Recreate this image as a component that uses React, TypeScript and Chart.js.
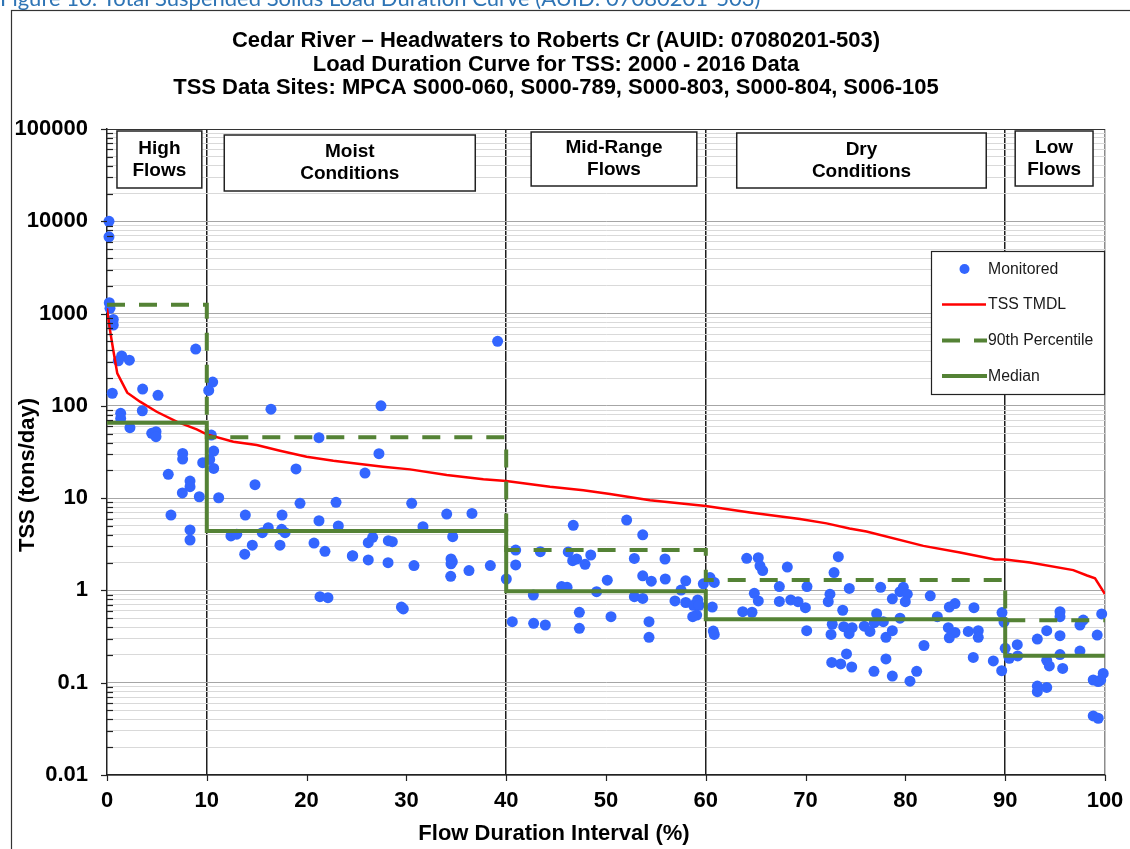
import React, { useEffect, useRef } from 'react';
import { Chart, registerables } from 'chart.js';

Chart.register(...registerables);

// ---------- text ----------
const captionText = 'Figure 10: Total Suspended Solids Load Duration Curve (AUID: 07080201-503)';
const titleLines = [
  'Cedar River \u2013 Headwaters to Roberts Cr (AUID: 07080201-503)',
  'Load Duration Curve for TSS: 2000 - 2016 Data',
  'TSS Data Sites: MPCA S000-060, S000-789, S000-803, S000-804, S006-105',
];
const xAxisTitle = 'Flow Duration Interval (%)';
const yAxisTitle = 'TSS (tons/day)';
const legendLabels = ['Monitored', 'TSS TMDL', '90th Percentile', 'Median'];

// ---------- flow zones ----------
const zoneEdges = [0, 10, 40, 60, 90, 100];
const zoneLabels = [
  ['High', 'Flows'],
  ['Moist', 'Conditions'],
  ['Mid-Range', 'Flows'],
  ['Dry', 'Conditions'],
  ['Low', 'Flows'],
];
const zoneDividers = [10, 40, 60, 90];
const p90Values = [1250, 45.6, 2.74, 1.3, 0.474];
const medianValues = [65.6, 4.4, 0.98, 0.486, 0.196];

// ---------- TMDL curve ----------
const tmdlX = [0, 0.3, 0.63, 1.03, 2.03, 3.31, 4.98, 6.98, 8.99, 10, 12.66, 15, 17.33, 20, 22.68, 25.35, 27.66, 30.36, 34.04, 37.71, 40, 44.39, 47.73, 50.4, 54.41, 60, 64.43, 69.44, 72.1, 74.4, 76.1, 81.8, 85.47, 88.98, 90, 92.48, 96.82, 98.2, 99.0, 100];
const tmdlY = [1140, 662, 401, 225, 139, 111, 86.3, 67.3, 55.6, 49.1, 40.8, 37.6, 32.6, 28.1, 25.4, 23.4, 21.9, 20.5, 17.8, 16.0, 15.3, 13.3, 12.2, 11.1, 9.5, 8.2, 7.0, 5.94, 5.33, 4.7, 4.35, 3.04, 2.58, 2.16, 2.16, 2.01, 1.66, 1.45, 1.35, 0.915];

// ---------- monitored TSS loads ----------
const flowPct = [
  0.2, 0.2, 0.23, 0.3, 0.63, 0.63, 1.13, 1.47, 2.24, 8.89, 0.53, 3.57, 5.11, 1.37, 1.37, 3.54, 2.3, 4.48, 4.91, 4.91,
  7.58, 7.58, 9.59, 6.14, 8.32, 8.32, 7.55, 9.25, 6.41, 8.32, 8.32,
  10.59, 10.19, 10.45, 10.69, 10.29, 10.69, 11.19, 16.43, 21.24, 18.94, 14.83, 19.34, 22.95, 13.86, 17.54, 21.24, 23.18, 16.16, 17.5, 17.84,
  15.56, 12.42, 13.0, 14.56, 13.8, 17.33, 20.74, 21.84, 24.58, 21.34, 22.14, 27.45, 27.25, 25.85, 30.53, 34.04, 36.57, 31.66, 34.64, 26.62,
  26.18, 28.19, 28.59, 24.62, 26.18, 28.16, 30.76, 34.47, 34.47, 34.6, 34.44, 36.27, 38.41, 29.5, 29.69, 39.14,
  40.01, 40.95, 40.95, 43.42, 46.22, 46.72, 46.66, 47.06, 47.9, 48.47, 50.13, 42.72, 45.55, 46.1, 49.06, 40.61, 42.75, 43.92, 47.33, 47.33,
  50.5, 52.07, 53.68, 52.84, 55.91, 53.68, 54.54, 55.94, 57.99, 57.52, 59.75, 52.84, 53.68, 56.91, 57.99, 58.75, 59.19, 59.32, 59.09, 58.69,
  54.31, 54.31,
  60.85, 60.42, 60.65, 60.75, 60.85, 64.1, 65.26, 65.43, 65.7, 68.17, 67.37, 70.14, 73.28, 72.85, 74.38, 64.86, 65.26, 63.7, 64.63, 67.37,
  68.51, 69.24, 69.98, 70.11, 72.44, 72.27, 73.72, 72.67, 73.82, 74.66, 74.36, 72.55, 74.1, 72.62, 73.52, 74.62, 77.52, 78.69, 79.79, 79.46,
  80.19, 79.99, 82.49, 84.4, 84.97, 86.87, 89.68, 77.12, 79.46, 83.2, 75.88, 76.45, 78.05, 78.69, 77.79, 76.88, 84.3, 84.97, 84.4, 86.3,
  87.3, 87.3, 81.86, 78.05, 86.8, 88.81, 89.65, 76.85, 78.69, 80.46, 81.13, 89.88,
  90.0, 90.41, 91.21, 91.25, 93.22, 94.16, 95.49, 95.49, 95.49, 97.49, 97.82, 99.22, 99.67, 94.16, 94.42, 95.76, 95.49, 97.49, 93.22, 93.22,
  94.16, 98.82, 99.32, 99.82, 99.57, 98.82, 99.32,
];
const tssObs = [
  10000, 6790, 1310, 1140, 865, 750, 308, 347, 313, 412, 137, 152, 130, 83, 73, 88.5, 58, 50.4, 52.5, 46.3,
  30.5, 26.5, 24.2, 18.1, 15.3, 13.3, 11.4, 10.35, 6.56, 4.52, 3.52,
  181, 147, 48.3, 32.4, 26.3, 21.0, 10.1, 92, 45.2, 20.7, 14.0, 8.8, 9.0, 6.56, 6.56, 5.69, 4.99, 4.79, 4.6, 4.22,
  4.22, 3.89, 4.07, 3.09, 2.47, 3.09, 3.26, 2.65, 2.36, 0.855, 0.834, 100, 30.3, 18.7, 8.8, 6.73, 6.83, 4.9, 3.82, 3.76,
  3.29, 3.46, 3.37, 2.38, 2.14, 2.0, 1.86, 2.19, 1.94, 2.05, 1.42, 1.64, 1.86, 0.66, 0.63, 500,
  1.33, 2.74, 1.89, 2.63, 2.61, 5.07, 2.1, 2.19, 1.92, 2.42, 1.29, 0.89, 1.1, 1.08, 0.97, 0.458, 0.44, 0.422, 0.579, 0.389,
  0.52, 5.79, 4.01, 2.22, 2.19, 1.44, 1.26, 1.33, 1.27, 1.01, 1.18, 0.855, 0.82, 0.77, 0.74, 0.69, 0.79, 0.69, 0.541, 0.519,
  0.458, 0.31,
  1.22, 1.38, 0.66, 0.363, 0.334, 2.23, 2.26, 1.85, 1.64, 1.79, 1.1, 1.1, 2.32, 1.56, 1.05, 0.93, 0.77, 0.588, 0.58, 0.76,
  0.79, 0.755, 0.65, 0.366, 0.91, 0.755, 0.61, 0.43, 0.405, 0.395, 0.34, 0.334, 0.205, 0.166, 0.16, 0.148, 1.08, 0.81, 1.08, 0.97,
  0.91, 0.755, 0.875, 0.66, 0.72, 0.65, 0.575, 0.56, 0.5, 0.52, 0.41, 0.36, 0.31, 0.366, 0.458, 0.447, 0.395, 0.35, 0.307, 0.36,
  0.366, 0.31, 0.253, 0.181, 0.188, 0.172, 0.135, 0.133, 0.118, 0.104, 0.133, 0.455,
  0.236, 0.184, 0.258, 0.195, 0.297, 0.366, 0.588, 0.519, 0.323, 0.422, 0.477, 0.328, 0.556, 0.175, 0.152, 0.143, 0.202, 0.22, 0.092, 0.08,
  0.089, 0.107, 0.103, 0.126, 0.107, 0.0436, 0.0412,
];

// ---------- axes ----------
const xMin = 0;
const xMax = 100;
const xStep = 10;
const yDecades = [0.01, 0.1, 1, 10, 100, 1000, 10000, 100000];
const yTickLabels = ['0.01', '0.1', '1', '10', '100', '1000', '10000', '100000'];

// ---------- styles / layout (not data) ----------
const FONT = "'Liberation Sans', Arial, sans-serif";
const BLUE = '#3366FF';
const RED = '#FF0000';
const GREEN = '#548235';
const zoneBoxLayout = [
  { x0: 1.0, x1: 9.5, top: 131, bottom: 188 },
  { x0: 11.75, x1: 36.9, top: 135, bottom: 191 },
  { x0: 42.5, x1: 59.1, top: 132, bottom: 186 },
  { x0: 63.1, x1: 88.1, top: 133, bottom: 188 },
  { x0: 91.0, x1: 98.8, top: 131, bottom: 186 },
];

const isDecade = (v: number) => {
  const l = Math.log10(v);
  return Math.abs(l - Math.round(l)) < 1e-6;
};

const yAllTicks: number[] = [];
yDecades.forEach((d, i) => {
  if (i === yDecades.length - 1) {
    yAllTicks.push(d);
    return;
  }
  for (let k = 1; k <= 9; k++) yAllTicks.push(parseFloat((d * k).toPrecision(6)));
});

const stepData = (vals: number[]) => {
  const pts: { x: number; y: number }[] = [];
  vals.forEach((v, i) => {
    pts.push({ x: zoneEdges[i], y: v });
    pts.push({ x: zoneEdges[i + 1], y: v });
  });
  return pts;
};

const decorPlugin = {
  id: 'decor',
  beforeDraw(chart: any) {
    const ctx = chart.ctx;
    ctx.save();
    ctx.fillStyle = '#ffffff';
    ctx.fillRect(0, 0, chart.width, chart.height);
    // caption (cut off at top)
    ctx.fillStyle = '#2E74B5';
    ctx.font = "22px Lato, 'Open Sans', sans-serif";
    ctx.textAlign = 'left';
    ctx.textBaseline = 'alphabetic';
    ctx.fillText(captionText, 0, 5.5);
    // frame
    ctx.strokeStyle = '#333333';
    ctx.lineWidth = 1.2;
    ctx.strokeRect(11.5, 10.5, 1200, 900);
    ctx.restore();
  },
  afterDraw(chart: any) {
    const ctx = chart.ctx;
    const area = chart.chartArea;
    const xs = chart.scales.x;
    const ys = chart.scales.y;
    ctx.save();

    // top border line of plot
    ctx.strokeStyle = '#333333';
    ctx.lineWidth = 1.2;
    ctx.beginPath();
    ctx.moveTo(area.left, area.top + 0.5);
    ctx.lineTo(area.right, area.top + 0.5);
    ctx.stroke();

    // tick marks
    ctx.strokeStyle = '#222222';
    ctx.lineWidth = 1.2;
    yAllTicks.forEach((v) => {
      const py = Math.round(ys.getPixelForValue(v)) + 0.5;
      ctx.beginPath();
      if (isDecade(v)) {
        ctx.moveTo(area.left - 6, py);
        ctx.lineTo(area.left, py);
      } else {
        ctx.moveTo(area.left, py);
        ctx.lineTo(area.left + 6, py);
      }
      ctx.stroke();
    });
    for (let v = xMin; v <= xMax; v += xStep) {
      const px = Math.round(xs.getPixelForValue(v)) + 0.5;
      ctx.beginPath();
      ctx.moveTo(px, area.bottom);
      ctx.lineTo(px, area.bottom + 6);
      ctx.stroke();
    }

    // title
    ctx.fillStyle = '#000000';
    ctx.font = `bold 22px ${FONT}`;
    ctx.textAlign = 'center';
    ctx.textBaseline = 'middle';
    const titleY = [41, 64.5, 88];
    titleLines.forEach((t, i) => ctx.fillText(t, 556, titleY[i]));

    // zone label boxes
    zoneBoxLayout.forEach((b, i) => {
      const x0 = xs.getPixelForValue(b.x0);
      const x1 = xs.getPixelForValue(b.x1);
      ctx.fillStyle = '#ffffff';
      ctx.fillRect(x0, b.top, x1 - x0, b.bottom - b.top);
      ctx.strokeStyle = '#222222';
      ctx.lineWidth = 1.5;
      ctx.strokeRect(x0, b.top, x1 - x0, b.bottom - b.top);
      ctx.fillStyle = '#000000';
      ctx.font = `bold 19px ${FONT}`;
      ctx.textAlign = 'center';
      ctx.textBaseline = 'middle';
      const cx = (x0 + x1) / 2;
      const cy = (b.top + b.bottom) / 2;
      ctx.fillText(zoneLabels[i][0], cx, cy - 11);
      ctx.fillText(zoneLabels[i][1], cx, cy + 11);
    });

    // legend
    const lx = 931, ly = 251, lw = 173, lh = 143;
    ctx.fillStyle = '#ffffff';
    ctx.fillRect(lx, ly, lw, lh);
    ctx.strokeStyle = '#222222';
    ctx.lineWidth = 1.2;
    ctx.strokeRect(lx + 0.5, ly + 0.5, lw, lh);
    const rowY = [269, 304.5, 340.5, 376];
    ctx.font = `15.8px ${FONT}`;
    ctx.textAlign = 'left';
    ctx.textBaseline = 'middle';
    ctx.fillStyle = BLUE;
    ctx.beginPath();
    ctx.arc(964.5, rowY[0], 5, 0, Math.PI * 2);
    ctx.fill();
    ctx.strokeStyle = RED;
    ctx.lineWidth = 2.5;
    ctx.beginPath();
    ctx.moveTo(942, rowY[1]);
    ctx.lineTo(986, rowY[1]);
    ctx.stroke();
    ctx.strokeStyle = GREEN;
    ctx.lineWidth = 4;
    ctx.beginPath();
    ctx.moveTo(942, rowY[2]);
    ctx.lineTo(960, rowY[2]);
    ctx.moveTo(974, rowY[2]);
    ctx.lineTo(987, rowY[2]);
    ctx.stroke();
    ctx.beginPath();
    ctx.moveTo(942, rowY[3]);
    ctx.lineTo(987, rowY[3]);
    ctx.stroke();
    ctx.fillStyle = '#1a1a1a';
    legendLabels.forEach((t, i) => ctx.fillText(t, 988, rowY[i] + 0.5));

    // axis titles
    ctx.fillStyle = '#000000';
    ctx.font = `bold 22px ${FONT}`;
    ctx.textAlign = 'center';
    ctx.textBaseline = 'middle';
    ctx.fillText(xAxisTitle, 554, 834);
    ctx.save();
    ctx.translate(28, 475);
    ctx.rotate(-Math.PI / 2);
    ctx.fillText(yAxisTitle, 0, 0);
    ctx.restore();

    ctx.restore();
  },
};

export default function App() {
  const canvasRef = useRef<HTMLCanvasElement | null>(null);

  useEffect(() => {
    if (!canvasRef.current) return;
    const scatterPts = flowPct.map((x, i) => ({ x, y: tssObs[i] }));
    const tmdlPts = tmdlX.map((x, i) => ({ x, y: tmdlY[i] }));
    const chart = new Chart(canvasRef.current, {
      type: 'scatter',
      data: {
        datasets: [
          {
            label: legendLabels[0],
            data: scatterPts,
            showLine: false,
            pointRadius: 5.5,
            pointBackgroundColor: BLUE,
            pointBorderWidth: 0,
            pointBorderColor: BLUE,
            clip: 10,
            order: 4,
          } as any,
          {
            label: legendLabels[1],
            data: tmdlPts,
            showLine: true,
            borderColor: RED,
            borderWidth: 2.5,
            pointRadius: 0,
            tension: 0,
            order: 3,
          },
          {
            label: legendLabels[2],
            data: stepData(p90Values),
            showLine: true,
            borderColor: GREEN,
            borderWidth: 4,
            borderDash: [18, 14],
            pointRadius: 0,
            order: 2,
          },
          {
            label: legendLabels[3],
            data: stepData(medianValues),
            showLine: true,
            borderColor: GREEN,
            borderWidth: 4,
            pointRadius: 0,
            order: 1,
          },
        ],
      },
      options: {
        responsive: false,
        animation: false,
        devicePixelRatio: 1,
        layout: { padding: { top: 129, right: 25, left: 0, bottom: 0 } },
        plugins: {
          legend: { display: false },
          title: { display: false },
          tooltip: { enabled: false },
        },
        scales: {
          x: {
            type: 'linear',
            min: xMin,
            max: xMax,
            ticks: {
              stepSize: xStep,
              color: '#000000',
              font: { family: FONT, size: 22, weight: 'bold' },
              padding: 13,
              maxRotation: 0,
            },
            grid: {
              drawTicks: false,
              color: (c: any) => {
                const v = c.tick ? c.tick.value : null;
                if (v === null) return 'rgba(0,0,0,0)';
                if (zoneDividers.includes(v)) return '#1f1f1f';
                if (v === xMax) return '#8c8c8c';
                return 'rgba(0,0,0,0)';
              },
              lineWidth: 1.5,
            },
            border: { color: '#222222', width: 1.5 },
            afterFit: (s: any) => {
              s.height = 74;
              s.paddingLeft = 0;
              s.paddingRight = 0;
            },
          },
          y: {
            type: 'logarithmic',
            min: yDecades[0],
            max: yDecades[yDecades.length - 1],
            afterBuildTicks: (s: any) => {
              s.ticks = yAllTicks.map((v) => ({ value: v }));
            },
            ticks: {
              autoSkip: false,
              color: '#000000',
              font: { family: FONT, size: 22, weight: 'bold' },
              padding: 19,
              callback: (value: any) => {
                const v = Number(value);
                const i = yDecades.findIndex((d) => Math.abs(Math.log10(d) - Math.log10(v)) < 1e-6);
                return i >= 0 ? yTickLabels[i] : '';
              },
            },
            grid: {
              drawTicks: false,
              color: (c: any) => (c.tick && isDecade(c.tick.value) ? '#a6a6a6' : '#d9d9d9'),
              lineWidth: 1,
            },
            border: { color: '#222222', width: 1.5 },
            afterFit: (s: any) => {
              s.width = 107;
              s.paddingTop = 0;
              s.paddingBottom = 0;
            },
          },
        },
      },
      plugins: [decorPlugin],
    });
    return () => chart.destroy();
  }, []);

  return (
    <div style={{ position: 'absolute', left: 0, top: 0, width: 1130, height: 849, background: '#ffffff', overflow: 'hidden' }}>
      <canvas ref={canvasRef} width={1130} height={849} style={{ display: 'block', width: 1130, height: 849 }} />
    </div>
  );
}
